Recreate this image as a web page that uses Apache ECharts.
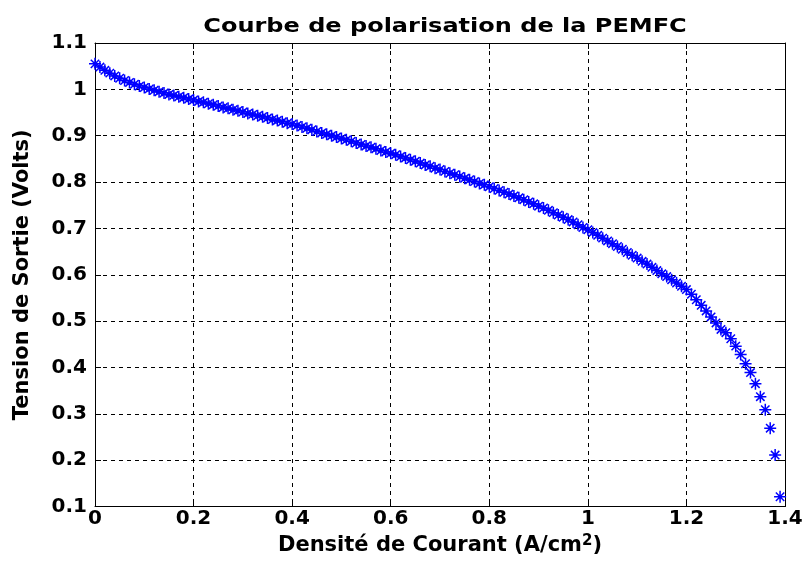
<!DOCTYPE html>
<html><head><meta charset="utf-8">
<script src="https://cdn.jsdelivr.net/npm/echarts@6/dist/echarts.min.js"></script>
<style>html,body{margin:0;padding:0;background:#fff}#c{width:807px;height:561px}</style>
</head><body><div id="c"></div>
<script>
const currentDensity = [
0.00,0.01,0.02,0.03,0.04,0.05,0.06,0.07,0.08,0.09,
0.10,0.11,0.12,0.13,0.14,0.15,0.16,0.17,0.18,0.19,
0.20,0.21,0.22,0.23,0.24,0.25,0.26,0.27,0.28,0.29,
0.30,0.31,0.32,0.33,0.34,0.35,0.36,0.37,0.38,0.39,
0.40,0.41,0.42,0.43,0.44,0.45,0.46,0.47,0.48,0.49,
0.50,0.51,0.52,0.53,0.54,0.55,0.56,0.57,0.58,0.59,
0.60,0.61,0.62,0.63,0.64,0.65,0.66,0.67,0.68,0.69,
0.70,0.71,0.72,0.73,0.74,0.75,0.76,0.77,0.78,0.79,
0.80,0.81,0.82,0.83,0.84,0.85,0.86,0.87,0.88,0.89,
0.90,0.91,0.92,0.93,0.94,0.95,0.96,0.97,0.98,0.99,
1.00,1.01,1.02,1.03,1.04,1.05,1.06,1.07,1.08,1.09,
1.10,1.11,1.12,1.13,1.14,1.15,1.16,1.17,1.18,1.19,
1.20,1.21,1.22,1.23,1.24,1.25,1.26,1.27,1.28,1.29,
1.30,1.31,1.32,1.33,1.34,1.35,1.36,1.37,1.38,1.39];
const voltage = [
1.055,1.048,1.041,1.035,1.029,1.024,1.019,1.015,1.011,1.007,
1.004,1.001,0.998,0.995,0.992,0.989,0.987,0.984,0.982,0.979,
0.977,0.974,0.972,0.969,0.967,0.964,0.961,0.959,0.956,0.954,
0.951,0.948,0.946,0.943,0.941,0.938,0.935,0.933,0.930,0.927,
0.925,0.922,0.919,0.916,0.913,0.909,0.906,0.903,0.900,0.897,
0.894,0.891,0.888,0.884,0.881,0.878,0.875,0.872,0.868,0.865,
0.862,0.859,0.855,0.852,0.848,0.845,0.841,0.837,0.834,0.830,
0.827,0.823,0.819,0.816,0.812,0.808,0.805,0.801,0.797,0.794,
0.790,0.786,0.782,0.778,0.774,0.770,0.766,0.762,0.757,0.753,
0.748,0.744,0.739,0.734,0.729,0.724,0.719,0.714,0.708,0.702,
0.697,0.691,0.685,0.679,0.673,0.667,0.661,0.655,0.648,0.642,
0.636,0.629,0.623,0.616,0.609,0.602,0.596,0.589,0.582,0.575,
0.568,0.558,0.546,0.534,0.522,0.509,0.496,0.482,0.475,0.462,
0.446,0.428,0.408,0.389,0.365,0.337,0.309,0.269,0.211,0.121];
const xTicks = [0,0.2,0.4,0.6,0.8,1,1.2,1.4];
const yTicks = [0.1,0.2,0.3,0.4,0.5,0.6,0.7,0.8,0.9,1,1.1];
const titleText = 'Courbe de polarisation de la PEMFC';
const xName = 'Densité de Courant (A/cm';
const yName = 'Tension de Sortie (Volts)';

const FONT = 'DejaVu Sans';
const chart = echarts.init(document.getElementById('c'), null, {renderer:'canvas'});
const pts = currentDensity.map((x,i)=>[x,voltage[i]]);
const dash = {type:[4,4], color:'#000', width:1};
const baseX = {type:'value', min:xTicks[0], max:xTicks[xTicks.length-1], interval:0.2};
const baseY = {type:'value', min:yTicks[0], max:yTicks[yTicks.length-1], interval:0.1};
chart.setOption({
  animation:false,
  backgroundColor:'#fff',
  graphic:[{type:'text', x:445, y:27, scaleX:1.2, scaleY:1,
    style:{text:titleText, fontFamily:FONT, fontSize:20, fontWeight:'bold', fill:'#000',
      align:'center', verticalAlign:'middle'}}],
  grid:{left:95, right:22, top:43, bottom:48, show:false},
  xAxis:[
    Object.assign({}, baseX, {position:'bottom',
      name:'{a|'+xName+'}{s|2}{a|)}', nameLocation:'middle', nameGap:27,
      nameTextStyle:{rich:{a:{fontFamily:FONT,fontSize:21,fontWeight:'bold',color:'#000',lineHeight:24},
                           s:{fontFamily:FONT,fontSize:15,fontWeight:'bold',color:'#000',verticalAlign:'top',lineHeight:24}}},
      axisLine:{show:true,onZero:false,lineStyle:{color:'#000',width:1}},
      axisTick:{show:true,inside:true,length:6,lineStyle:{color:'#000'}},
      axisLabel:{fontFamily:FONT,fontSize:20,fontWeight:'bold',color:'#000',margin:2,
        formatter:v=>String(+v.toFixed(1))},
      splitLine:{show:true,lineStyle:dash}}),
    Object.assign({}, baseX, {position:'top',
      axisLine:{show:true,onZero:false,lineStyle:{color:'#000',width:1}},
      axisTick:{show:true,inside:true,length:6,lineStyle:{color:'#000'}},
      axisLabel:{show:false}, splitLine:{show:false}})
  ],
  yAxis:[
    Object.assign({}, baseY, {position:'left',
      name:yName, nameLocation:'middle', nameGap:62, nameRotate:90,
      nameTextStyle:{fontFamily:FONT,fontSize:21,fontWeight:'bold',color:'#000'},
      axisLine:{show:true,onZero:false,lineStyle:{color:'#000',width:1}},
      axisTick:{show:true,inside:true,length:6,lineStyle:{color:'#000'}},
      axisLabel:{fontFamily:FONT,fontSize:20,fontWeight:'bold',color:'#000',margin:8,
        formatter:v=>String(+v.toFixed(1))},
      splitLine:{show:true,lineStyle:dash}}),
    Object.assign({}, baseY, {position:'right',
      axisLine:{show:true,onZero:false,lineStyle:{color:'#000',width:1}},
      axisTick:{show:true,inside:true,length:6,lineStyle:{color:'#000'}},
      axisLabel:{show:false}, splitLine:{show:false}})
  ],
  series:[{
    type:'scatter', xAxisIndex:0, yAxisIndex:0, data:pts,
    symbol:'path://M0,5L10,5M5,0L5,10M1.5,1.5L8.5,8.5M8.5,1.5L1.5,8.5',
    symbolSize:12,
    itemStyle:{color:'rgba(0,0,0,0)', borderColor:'#0000ff', borderWidth:1.5, opacity:1},
    emphasis:{disabled:true}
  }]
});
</script></body></html>
